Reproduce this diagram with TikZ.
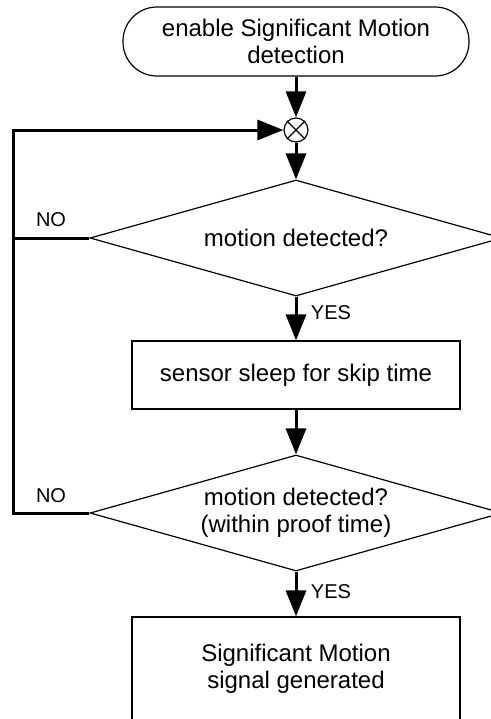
\documentclass[tikz,border=0pt]{standalone}
\usepackage{fontspec}
\setmainfont{Liberation Sans}
\usetikzlibrary{shapes.geometric,arrows.meta}

\tikzset{
  flow/.style={line width=1.5pt, -{Triangle[length=13pt,width=10pt]}},
  loopline/.style={line width=1.5pt},
  textsize/.style={font=\fontsize{12}{13.5}\selectfont, align=center},
  terminal/.style={rectangle, draw, line width=0.6pt, rounded corners=17pt, minimum width=173pt, minimum height=34.5pt, textsize},
  stepbox/.style={rectangle, draw, line width=0.6pt, minimum width=164pt, minimum height=34pt, textsize},
  ask/.style={diamond, draw, line width=0.6pt, aspect=3.55, inner sep=0pt, minimum width=206pt, minimum height=58pt, textsize},
  answer/.style={font=\fontsize{10}{12}\selectfont}
}

\begin{document}
\begin{tikzpicture}[x=0.5pt, y=-0.5pt]

\useasboundingbox (0,0) rectangle (491,719);

\node [terminal] (enable) at (296, 41.5) {enable Significant Motion\\detection};

\node [circle, draw, line width=0.6pt, minimum size=12pt, inner sep=0pt] (join) at (296, 130) {};
\draw [line width=0.6pt] (join.north east) -- (join.south west);
\draw [line width=0.6pt] (join.north west) -- (join.south east);

\node [ask] (ask1) at (296, 238) {motion detected?};
\node [stepbox] (sleep) at (296, 375) {sensor sleep for skip time};
\node [ask] (ask2) at (296, 513) {motion detected?\\(within proof time)};
\node [stepbox, minimum height=52pt] (signal) at (296, 669) {Significant Motion\\signal generated};

\coordinate (loop) at (13, 130);

\draw [flow] (enable) -- (join);
\draw [flow] (join) -- (ask1);
\draw [flow] (ask1) -- (sleep);
\draw [flow] (sleep) -- (ask2);
\draw [flow] (ask2) -- (signal);

\draw [loopline] (ask1.west) -- (ask1.west -| loop);
\draw [flow] (ask2.west) -- (ask2.west -| loop) |- (join.west);

\node [answer] (no1) at (51, 220) {NO};
\node [answer] (yes1) at (331, 313) {YES};
\node [answer] (no2) at (51, 496) {NO};
\node [answer] (yes2) at (331, 592) {YES};

\end{tikzpicture}
\end{document}
